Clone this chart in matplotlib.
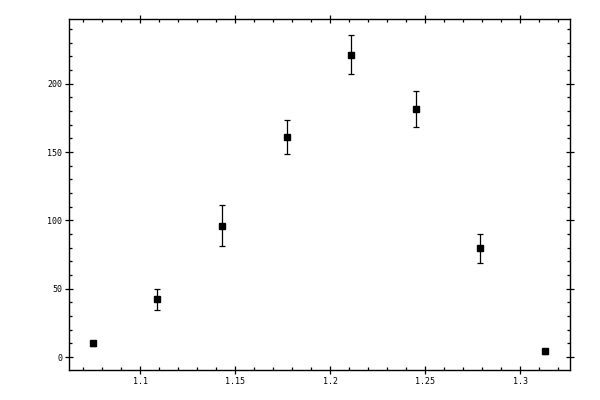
import numpy as np
import matplotlib
matplotlib.use("Agg")
import matplotlib.pyplot as plt
from matplotlib.ticker import MultipleLocator

# values
x_vals = [1.075, 1.109, 1.143, 1.177, 1.211, 1.245, 1.279, 1.313]
y_vals = [10.0, 42.3, 95.9, 161.2, 221.4, 181.7, 79.6, 4.2]
y_err = [2.0, 7.7, 15.0, 12.6, 14.3, 13.2, 10.7, 2.0]

fig = plt.figure(figsize=(6, 4), dpi=100)
ax = fig.add_axes([69 / 600, 30 / 400, 501 / 600, 351 / 400])

ax.errorbar(x_vals, y_vals, yerr=y_err, fmt="s", color="black",
            markersize=5, elinewidth=0.9, capsize=2, capthick=0.9)

ax.set_xlim(1.0624, 1.3263)
ax.set_ylim(-9.5, 247.4)

ax.xaxis.set_major_locator(MultipleLocator(0.05))
ax.xaxis.set_minor_locator(MultipleLocator(0.01))
ax.yaxis.set_major_locator(MultipleLocator(50))
ax.yaxis.set_minor_locator(MultipleLocator(10))
ax.xaxis.set_major_formatter(plt.FuncFormatter(lambda v, p: "{:g}".format(round(v, 3))))

for s in ax.spines.values():
    s.set_linewidth(1.0)

ax.tick_params(which="major", direction="inout", length=6, width=0.9,
               top=True, right=True, labelsize=6, pad=2)
ax.tick_params(which="minor", direction="in", length=2.3, width=0.9,
               top=True, right=True)
for lab in ax.get_xticklabels() + ax.get_yticklabels():
    lab.set_family("DejaVu Sans Mono")

fig.savefig("out.png", dpi=100)
